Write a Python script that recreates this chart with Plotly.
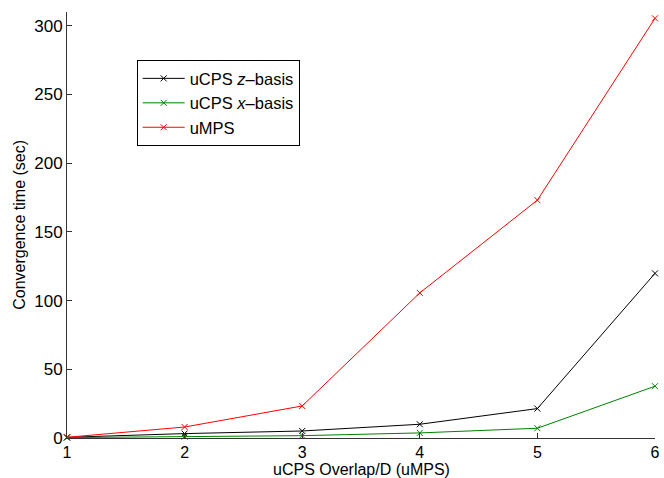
import plotly.graph_objects as go

overlap = [1, 2, 3, 4, 5, 6]
ucps_z = [0.5, 3.2, 5.1, 10.0, 21.4, 119.8]
ucps_x = [0.3, 1.0, 1.7, 3.7, 7.1, 37.7]
umps = [0.5, 8.0, 23.3, 105.6, 173.1, 305.4]

series = [
    ("uCPS <i>z</i>–basis", ucps_z, "#000000"),
    ("uCPS <i>x</i>–basis", ucps_x, "#008000"),
    ("uMPS", umps, "#ff0000"),
]

fig = go.Figure()
for name, vals, color in series:
    fig.add_trace(go.Scatter(
        x=overlap, y=vals, name=name, mode="lines+markers",
        line=dict(color=color, width=1),
        marker=dict(symbol="x-thin-open", size=6, line=dict(color=color, width=1)),
        cliponaxis=False,
    ))

font = "Liberation Sans, Arial, Helvetica, sans-serif"
fig.update_layout(
    width=664, height=478,
    margin=dict(l=67, r=9, t=12, b=40, autoexpand=False),
    paper_bgcolor="white", plot_bgcolor="white",
    font=dict(family=font, size=17, color="black"),
    showlegend=True,
    legend=dict(
        x=0.1185, y=0.887, xanchor="left", yanchor="top",
        bordercolor="black", borderwidth=1, bgcolor="white",
        font=dict(size=16.5), tracegroupgap=0, itemwidth=42,
    ),
    xaxis=dict(
        range=[1, 6], tickvals=overlap, ticks="inside", ticklen=5,
        tickcolor="#333", showline=True, linecolor="#333", linewidth=1,
        showgrid=False, zeroline=False, tickfont=dict(size=16),
        automargin=False,
    ),
    yaxis=dict(
        range=[0, 310], tickvals=[0, 50, 100, 150, 200, 250, 300],
        ticks="inside", ticklen=5, tickcolor="#333",
        showline=True, linecolor="#333", linewidth=1,
        showgrid=False, zeroline=False, tickfont=dict(size=17),
        automargin=False,
    ),
    annotations=[
        dict(text="uCPS Overlap/D (uMPS)", x=0.5, y=-0.0735, xref="paper", yref="paper",
             xanchor="center", yanchor="middle", showarrow=False,
             font=dict(size=16)),
        dict(text="Convergence time (sec)", x=-0.082, y=0.5, xref="paper", yref="paper",
             xanchor="center", yanchor="middle", textangle=-90, showarrow=False,
             font=dict(size=16)),
    ],
)

fig.write_html("out.html")
